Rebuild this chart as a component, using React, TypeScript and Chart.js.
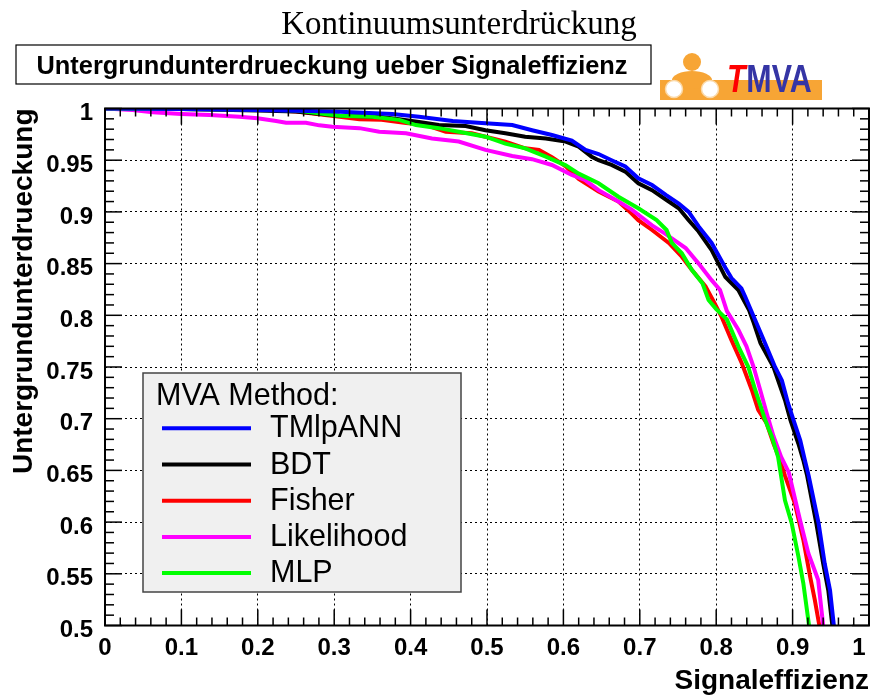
import React, { useEffect, useRef } from 'react';
import { Chart, registerables } from 'chart.js';

Chart.register(...registerables);

// ROC curves: signal efficiency (x) vs background rejection (y)
const annEff = [0, 0.1, 0.2, 0.3, 0.376, 0.411, 0.455, 0.498, 0.533, 0.559, 0.585, 0.611, 0.629, 0.646, 0.663, 0.681, 0.698, 0.716, 0.735, 0.751, 0.764, 0.777, 0.794, 0.812, 0.82, 0.833, 0.838, 0.851, 0.864, 0.877, 0.886, 0.894, 0.901, 0.91, 0.916, 0.921, 0.934, 0.942, 0.949, 0.954];
const annRej = [1.0, 0.9995, 0.9985, 0.997, 0.9947, 0.992, 0.988, 0.9857, 0.984, 0.979, 0.9744, 0.969, 0.96, 0.956, 0.95, 0.944, 0.9325, 0.926, 0.916, 0.908, 0.9, 0.886, 0.87, 0.846, 0.836, 0.826, 0.818, 0.7955, 0.773, 0.75, 0.737, 0.715, 0.699, 0.679, 0.66, 0.645, 0.599, 0.56, 0.534, 0.5];

const bdtEff = [0, 0.1, 0.2, 0.25, 0.307, 0.359, 0.385, 0.411, 0.437, 0.472, 0.498, 0.524, 0.55, 0.577, 0.603, 0.62, 0.637, 0.646, 0.663, 0.681, 0.698, 0.716, 0.735, 0.751, 0.764, 0.777, 0.794, 0.812, 0.829, 0.843, 0.849, 0.858, 0.875, 0.89, 0.897, 0.9075, 0.914, 0.919, 0.931, 0.94, 0.9467, 0.952];
const bdtRej = [1.0, 0.9995, 0.998, 0.997, 0.993, 0.992, 0.9895, 0.987, 0.984, 0.983, 0.979, 0.976, 0.9727, 0.971, 0.968, 0.963, 0.9534, 0.95, 0.9454, 0.939, 0.9277, 0.921, 0.9115, 0.9035, 0.892, 0.881, 0.863, 0.837, 0.8245, 0.805, 0.793, 0.773, 0.75, 0.718, 0.699, 0.676, 0.66, 0.645, 0.599, 0.56, 0.534, 0.5];

const fisherEff = [0, 0.1, 0.2, 0.25, 0.307, 0.333, 0.362, 0.394, 0.42, 0.446, 0.48, 0.498, 0.524, 0.55, 0.568, 0.585, 0.603, 0.62, 0.646, 0.672, 0.689, 0.698, 0.716, 0.738, 0.755, 0.768, 0.786, 0.797, 0.807, 0.82, 0.8335, 0.8465, 0.855, 0.866, 0.875, 0.8836, 0.89, 0.903, 0.914, 0.923, 0.929, 0.935];
const fisherRej = [1.0, 0.9995, 0.999, 0.997, 0.992, 0.9895, 0.989, 0.986, 0.984, 0.9776, 0.976, 0.9727, 0.968, 0.9615, 0.96, 0.953, 0.944, 0.932, 0.9196, 0.91, 0.8986, 0.892, 0.8825, 0.87, 0.8567, 0.844, 0.828, 0.813, 0.7986, 0.776, 0.7536, 0.728, 0.7084, 0.6956, 0.676, 0.66, 0.645, 0.618, 0.583, 0.547, 0.525, 0.5];

const likeEff = [0, 0.036, 0.0625, 0.0998, 0.137, 0.176, 0.1995, 0.224, 0.237, 0.263, 0.2805, 0.2975, 0.333, 0.359, 0.394, 0.428, 0.463, 0.498, 0.533, 0.559, 0.585, 0.611, 0.628, 0.646, 0.672, 0.689, 0.716, 0.733, 0.76, 0.777, 0.794, 0.805, 0.814, 0.829, 0.8396, 0.849, 0.8575, 0.866, 0.875, 0.885, 0.895, 0.9097, 0.9206, 0.9335, 0.94];
const likeRej = [1.0, 0.9985, 0.9963, 0.9947, 0.9937, 0.992, 0.9905, 0.988, 0.9863, 0.9863, 0.9837, 0.9824, 0.981, 0.9776, 0.976, 0.971, 0.968, 0.96, 0.954, 0.951, 0.9454, 0.9357, 0.931, 0.921, 0.91, 0.9025, 0.887, 0.879, 0.865, 0.85, 0.834, 0.8245, 0.804, 0.786, 0.77, 0.75, 0.728, 0.7055, 0.683, 0.663, 0.648, 0.602, 0.57, 0.544, 0.5];

const mlpEff = [0, 0.1, 0.2, 0.25, 0.307, 0.35, 0.385, 0.407, 0.437, 0.463, 0.498, 0.524, 0.55, 0.577, 0.603, 0.62, 0.646, 0.672, 0.698, 0.722, 0.735, 0.742, 0.755, 0.768, 0.782, 0.79, 0.8, 0.814, 0.829, 0.842, 0.851, 0.864, 0.8726, 0.881, 0.8857, 0.89, 0.8988, 0.9075, 0.914, 0.9215];
const mlpRej = [1.0, 0.9995, 0.999, 0.998, 0.993, 0.992, 0.989, 0.984, 0.981, 0.9776, 0.9727, 0.966, 0.9615, 0.9534, 0.945, 0.937, 0.9277, 0.9147, 0.9035, 0.892, 0.8825, 0.87, 0.86, 0.844, 0.831, 0.8148, 0.806, 0.796, 0.77, 0.75, 0.728, 0.699, 0.683, 0.663, 0.641, 0.621, 0.599, 0.567, 0.541, 0.5];

const methodNames = ['TMlpANN', 'BDT', 'Fisher', 'Likelihood', 'MLP'];
const methodColors = ['#0000ff', '#000000', '#ff0000', '#ff00ff', '#00ff00'];
const methodEff = [annEff, bdtEff, fisherEff, likeEff, mlpEff];
const methodRej = [annRej, bdtRej, fisherRej, likeRej, mlpRej];
const drawOrder = [0, 3, 4, 2, 1];

const mainTitle = 'Kontinuumsunterdrückung';
const boxTitle = 'Untergrundunterdrueckung ueber Signaleffizienz';
const xTitle = 'Signaleffizienz';
const yTitle = 'Untergrundunterdrueckung';
const legendHeader = 'MVA Method:';

const SANS = '"Liberation Sans", Arial, Helvetica, sans-serif';

function line(ctx: CanvasRenderingContext2D, x1: number, y1: number, x2: number, y2: number) {
  ctx.beginPath();
  ctx.moveTo(x1, y1);
  ctx.lineTo(x2, y2);
  ctx.stroke();
}

const framePlugin = {
  id: 'rootFrame',
  afterDatasetsDraw(chart: any) {
    const { ctx, chartArea: a, scales } = chart;
    const xs = scales.x;
    const ys = scales.y;
    ctx.save();

    // legend box
    const lx = 143, ly = 373, lw = 318, lh = 219;
    ctx.fillStyle = '#f0f0f0';
    ctx.fillRect(lx, ly, lw, lh);
    ctx.strokeStyle = '#444444';
    ctx.lineWidth = 1.5;
    ctx.strokeRect(lx, ly, lw, lh);
    ctx.fillStyle = '#000';
    ctx.font = `30.5px ${SANS}`;
    ctx.textAlign = 'left';
    ctx.textBaseline = 'alphabetic';
    ctx.fillText(legendHeader, 156, 405);
    chart.data.datasets.forEach((ds: any, i: number) => {
      const yy = 428.3 + i * 36.2;
      ctx.strokeStyle = ds.borderColor;
      ctx.lineWidth = 4;
      line(ctx, 162, yy, 251, yy);
      ctx.fillStyle = '#000';
      ctx.fillText(ds.label, 270, yy + 9);
    });

    // frame
    ctx.strokeStyle = '#000';
    ctx.lineWidth = 2;
    ctx.strokeRect(a.left, a.top, a.right - a.left, a.bottom - a.top);

    // tick marks on all four sides
    ctx.lineWidth = 1.5;
    for (let i = 0; i <= 50; i++) {
      const px = xs.getPixelForValue(i * 0.02);
      const len = i % 5 === 0 ? 16 : 8;
      line(ctx, px, a.bottom, px, a.bottom - len);
      line(ctx, px, a.top, px, a.top + len);
    }
    for (let i = 0; i <= 50; i++) {
      const py = ys.getPixelForValue(0.5 + i * 0.01);
      const len = i % 5 === 0 ? 17 : 9;
      line(ctx, a.left, py, a.left + len, py);
      line(ctx, a.right, py, a.right - len, py);
    }
    ctx.restore();
  },
  afterDraw(chart: any) {
    const { ctx } = chart;
    ctx.save();
    // main title
    ctx.fillStyle = '#000';
    ctx.font = `33px "Liberation Serif", "Times New Roman", serif`;
    ctx.textAlign = 'center';
    ctx.textBaseline = 'alphabetic';
    ctx.fillText(mainTitle, 459, 34);

    // boxed title
    ctx.fillStyle = '#fff';
    ctx.fillRect(16, 45, 635, 39);
    ctx.strokeStyle = '#000';
    ctx.lineWidth = 1.2;
    ctx.strokeRect(16, 45, 635, 39);
    ctx.fillStyle = '#000';
    ctx.font = `bold 25.4px ${SANS}`;
    ctx.fillText(boxTitle, 332, 74);

    // TMVA logo
    const orange = '#f7a535';
    ctx.fillStyle = orange;
    ctx.fillRect(660, 80, 162, 20);
    ctx.beginPath();
    ctx.arc(692, 62, 9, 0, Math.PI * 2);
    ctx.fill();
    ctx.beginPath();
    ctx.ellipse(692, 80, 20, 9, 0, 0, Math.PI * 2);
    ctx.fill();
    ctx.fillStyle = '#ffffff';
    ctx.strokeStyle = '#fbd9a8';
    ctx.lineWidth = 1.5;
    [674, 710].forEach((cx) => {
      ctx.beginPath();
      ctx.arc(cx, 89, 8.5, 0, Math.PI * 2);
      ctx.fill();
      ctx.stroke();
    });
    ctx.save();
    ctx.translate(727, 92);
    ctx.scale(0.8, 1);
    ctx.font = `italic bold 38px ${SANS}`;
    ctx.textAlign = 'left';
    ctx.fillStyle = '#ff0000';
    ctx.fillText('T', 0, 0);
    const tw = ctx.measureText('T').width;
    ctx.font = `bold 38px ${SANS}`;
    ctx.fillStyle = '#3535a5';
    ctx.fillText('MVA', tw + 1, 0);
    ctx.restore();

    ctx.restore();
  },
};

export default function App() {
  const canvasRef = useRef<HTMLCanvasElement | null>(null);

  useEffect(() => {
    const canvas = canvasRef.current;
    if (!canvas) return;

    const datasets = methodNames.map((name, i) => ({
      label: name,
      data: methodEff[i].map((e, k) => ({ x: e, y: methodRej[i][k] })),
      borderColor: methodColors[i],
      backgroundColor: methodColors[i],
      borderWidth: 4,
      pointRadius: 0,
      tension: 0,
      fill: false,
      order: drawOrder[i],
    }));

    const chart = new Chart(canvas, {
      type: 'line',
      data: { datasets },
      options: {
        animation: false,
        responsive: false,
        devicePixelRatio: 1,
        events: [],
        layout: { padding: { top: 108.5, right: 1, left: 0, bottom: 0 } },
        plugins: {
          legend: { display: false },
          tooltip: { enabled: false },
          title: { display: false },
        },
        scales: {
          x: {
            type: 'linear',
            min: 0,
            max: 1,
            grid: { color: '#000', lineWidth: 1, drawTicks: false },
            border: { display: false, dash: [2, 3] },
            ticks: {
              stepSize: 0.1,
              autoSkip: false,
              maxRotation: 0,
              padding: 8,
              color: '#000',
              font: { family: SANS, size: 24, weight: 'bold' },
              callback: (v: any) => {
                const n = Number(v);
                if (Math.abs(n) < 1e-9) return '0';
                if (Math.abs(n - 1) < 1e-9) return '1   ';
                return n.toFixed(1);
              },
            },
            title: {
              display: true,
              text: xTitle,
              align: 'end',
              color: '#000',
              font: { family: SANS, size: 28, weight: 'bold' },
              padding: { top: 0, bottom: 0 },
            },
            afterFit: (s: any) => {
              s.height = 72.5;
              s.paddingLeft = 0;
              s.paddingRight = 0;
            },
          },
          y: {
            type: 'linear',
            min: 0.5,
            max: 1,
            grid: { color: '#000', lineWidth: 1, drawTicks: false },
            border: { display: false, dash: [2, 3] },
            ticks: {
              stepSize: 0.05,
              autoSkip: false,
              padding: 12,
              labelOffset: 5,
              color: '#000',
              font: { family: SANS, size: 24, weight: 'bold' },
              callback: (v: any) => {
                const r = Math.round(Number(v) * 100) / 100;
                return r === 1 ? '1' : String(r);
              },
            },
            title: {
              display: true,
              text: yTitle,
              align: 'end',
              color: '#000',
              font: { family: SANS, size: 28, weight: 'bold' },
              padding: { top: 7, bottom: 0 },
            },
            afterFit: (s: any) => {
              s.width = 105;
              s.paddingTop = 0;
              s.paddingBottom = 0;
            },
          },
        },
      },
      plugins: [framePlugin],
    } as any);

    return () => chart.destroy();
  }, []);

  return (
    <div style={{ position: 'absolute', left: 0, top: 0, width: 870, height: 698, background: '#fff' }}>
      <canvas ref={canvasRef} width={870} height={698} style={{ display: 'block' }} />
    </div>
  );
}
